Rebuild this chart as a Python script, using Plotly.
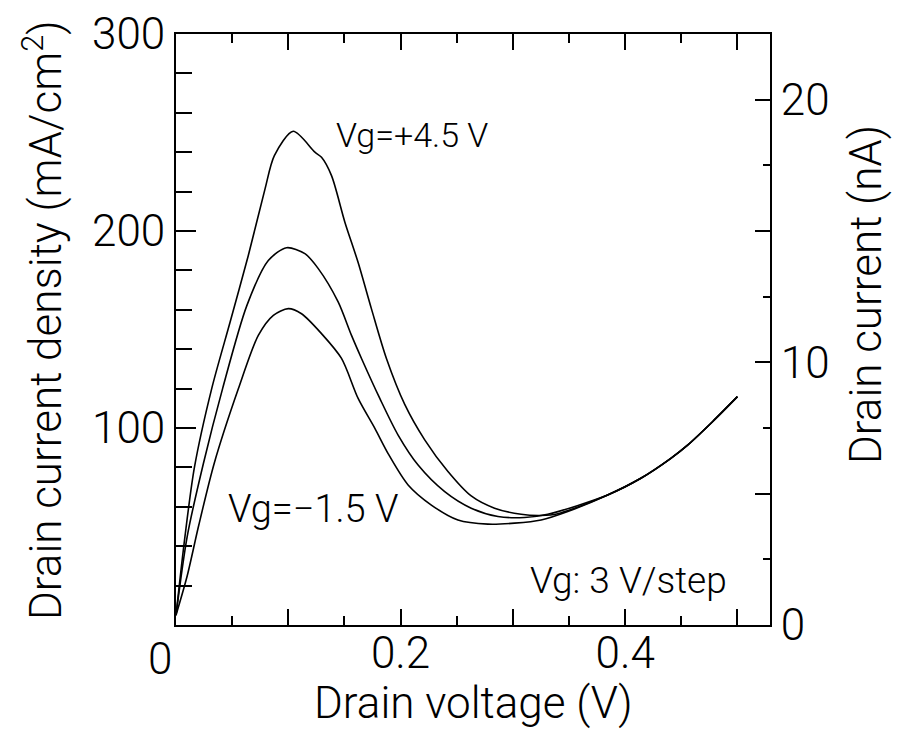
import plotly.graph_objects as go

# Drain voltage (V) / current density (mA/cm^2)
x_p45 = [0.0, 0.008, 0.0164, 0.0318, 0.0482, 0.0644, 0.0793, 0.0876, 0.1044,
         0.1237, 0.1296, 0.1385, 0.1504, 0.1622, 0.174, 0.1874, 0.2037, 0.2215,
         0.2422, 0.2629, 0.2837, 0.3074, 0.3252, 0.34, 0.3844, 0.414, 0.4407,
         0.4556, 0.4778, 0.5]
y_p45 = [5, 45, 80, 120, 153.8, 187.6, 221.4, 238.3, 250.6,
         240, 237.4, 228.1, 204.5, 184, 160.6, 135.3, 112, 94,
         77.9, 65.5, 59.3, 56.2, 55.6, 56.5, 66, 74.5, 84.6,
         91.3, 103.2, 115.9]

x_p15 = [0.0, 0.01, 0.0244, 0.0415, 0.063, 0.0822, 0.0985, 0.1148,
         0.1267, 0.1444, 0.1563, 0.1652, 0.1815, 0.1978, 0.2156, 0.2393, 0.2629,
         0.2867, 0.3104, 0.3311, 0.3844, 0.414, 0.4407, 0.4556, 0.4778, 0.5]
y_p15 = [5, 45, 82, 120, 162, 185, 191.5, 188.5,
         180.9, 164, 147, 135.3, 115, 96.4, 81.2, 67.7, 59.3,
         55.1, 54.6, 56.2, 66, 74.5, 84.6, 91.3, 103.2, 115.9]

x_m15 = [0.0, 0.01, 0.02, 0.034, 0.0556, 0.0733, 0.0867, 0.1, 0.1118,
         0.1296, 0.1474, 0.1622, 0.1771, 0.1889, 0.2067, 0.2274, 0.2511, 0.2778,
         0.3015, 0.3252, 0.3489, 0.3844, 0.414, 0.4407, 0.4556, 0.4778, 0.5]
y_m15 = [5, 25, 50, 82, 120, 147, 157.2, 160.6, 158,
         147.9, 135.3, 115, 99.8, 87, 71.1, 60.9, 53.3, 51.2,
         51.7, 53.3, 57.6, 66, 74.5, 84.6, 91.3, 103.2, 115.9]

x_tickvals = [0, 0.1, 0.2, 0.3, 0.4, 0.5]
x_ticktext = ["", "", "0.2", "", "0.4", ""]
y_tickvals = [0, 100, 200, 300]
y_ticktext = ["", "100", "200", "300"]
y2_tickvals = [0, 5, 10, 15, 20]
y2_ticktext = ["0", "", "10", "", "20"]

FONT = "Roboto, Liberation Sans, Arial, sans-serif"
W = 300
L, R, T, B = 168, 142, 26, 122
PW, PH = 904 - L - R, 739 - T - B


def px_x(p):
    return (p - L) / PW


def px_y(p):
    return (739 - B - p) / PH


line = dict(color="black", width=1.6)

fig = go.Figure()
for xs, ys, name in [(x_p45, y_p45, "Vg=+4.5 V"), (x_p15, y_p15, "Vg=+1.5 V"), (x_m15, y_m15, "Vg=-1.5 V")]:
    fig.add_trace(go.Scatter(x=xs, y=ys, mode="lines", line=dict(line, shape="spline", smoothing=0.8),
                             name=name, showlegend=False, hoverinfo="skip"))
# invisible trace so the right-hand axis is drawn
fig.add_trace(go.Scatter(x=[0], y=[0], yaxis="y2", mode="markers", marker=dict(opacity=0),
                         showlegend=False, hoverinfo="skip"))

tf = dict(family=FONT, size=44, color="black", weight=W)
axis_common = dict(showline=True, linecolor="black", linewidth=2, ticks="inside",
                   tickcolor="black", tickwidth=1.5, showgrid=False, zeroline=False,
                   automargin=False, tickfont=tf, ticklabeloverflow="allow")

fig.update_layout(
    width=904, height=739,
    margin=dict(l=L, r=R, t=T, b=B, autoexpand=False),
    paper_bgcolor="white", plot_bgcolor="white",
    font=dict(family=FONT, color="black"),
    xaxis=dict(axis_common, range=[0, 0.529], tickvals=x_tickvals, ticktext=x_ticktext,
               ticklen=16, mirror="ticks", ticklabelstandoff=-12,
               minor=dict(dtick=0.05, tick0=0, ticklen=9, tickcolor="black", tickwidth=1.5, ticks="inside")),
    yaxis=dict(axis_common, range=[0, 300], tickvals=y_tickvals, ticktext=y_ticktext,
               ticklen=20,
               minor=dict(dtick=20, tick0=0, ticklen=16, tickcolor="black", tickwidth=1.5, ticks="inside")),
    yaxis2=dict(axis_common, overlaying="y", side="right", range=[0, 22.5],
                tickvals=y2_tickvals, ticktext=y2_ticktext, ticklen=15,
                minor=dict(dtick=2.5, tick0=0, ticklen=7, tickcolor="black", tickwidth=1.5, ticks="inside")),
    annotations=[
        dict(x=0, y=0, xref="x", yref="paper", text="0", showarrow=False, xshift=-16, yshift=-6,
             yanchor="top", font=tf),
        dict(x=px_x(465), y=px_y(695), xref="paper", yref="paper", text="Drain voltage (V)", showarrow=False,
             xanchor="center", yanchor="middle", font=tf),
        dict(x=px_x(35), y=px_y(312), xref="paper", yref="paper", text="Drain current density (mA/cm<sup>2</sup>)",
             showarrow=False, textangle=-90, xanchor="center", yanchor="middle", font=tf),
        dict(x=px_x(858), y=px_y(287), xref="paper", yref="paper", text="Drain current (nA)",
             showarrow=False, textangle=-90, xanchor="center", yanchor="middle", font=tf),
        dict(x=0.1409, y=248.7, xref="x", yref="y", text="Vg=+4.5 V", showarrow=False, xanchor="left",
             yanchor="middle", font=dict(family=FONT, size=34, color="black", weight=W)),
        dict(x=0.0449, y=58.8, xref="x", yref="y", text="Vg=−1.5 V", showarrow=False, xanchor="left",
             yanchor="middle", font=dict(family=FONT, size=38, color="black", weight=W)),
        dict(x=0.4929, y=22.8, xref="x", yref="y", text="Vg: 3 V/step", showarrow=False, xanchor="right",
             yanchor="middle", font=dict(family=FONT, size=37, color="black", weight=W)),
    ],
)

fig.write_html("out.html")
